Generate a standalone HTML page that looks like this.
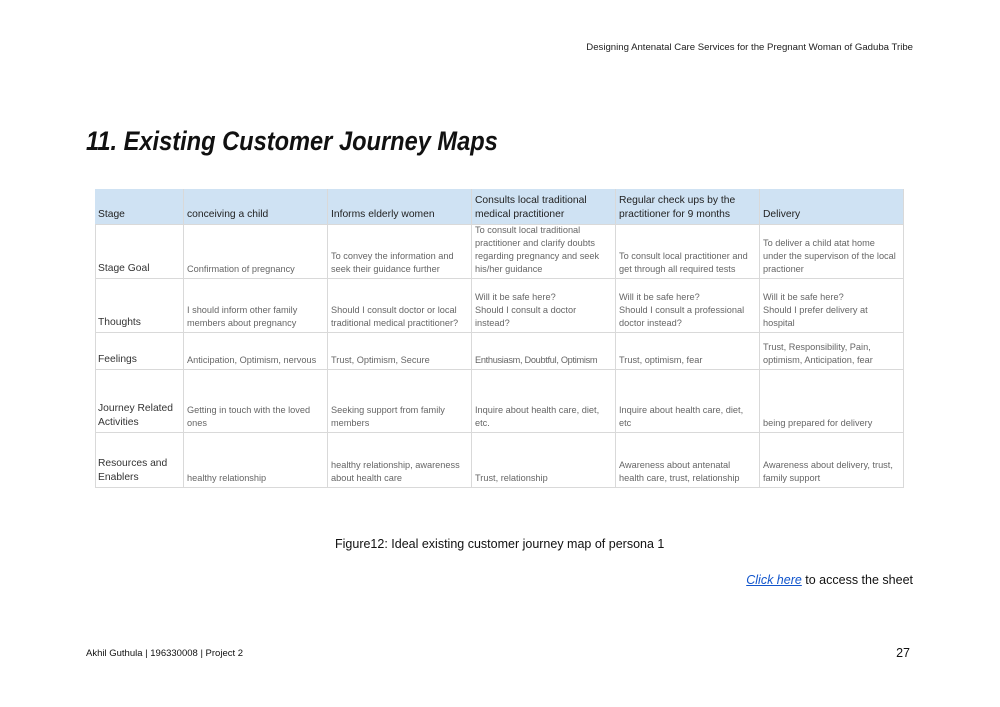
<!DOCTYPE html>
<html><head><meta charset="utf-8"><style>
body{margin:0;width:1000px;height:707px;background:#fff;position:relative;font-family:"Liberation Sans",sans-serif;overflow:hidden}
.a{position:absolute;white-space:nowrap}
.c{position:absolute;box-sizing:border-box;display:flex;align-items:flex-end;padding:0 3px 2px 3px;font-size:9.2px;line-height:13px;color:#666;border-right:1px solid #d9d9d9;border-bottom:1px solid #d9d9d9}
.h{background:#cfe2f3;color:#222;font-size:10.3px;line-height:14px}
.l{color:#333;font-size:10.3px;line-height:14px}
</style></head><body>
<div class="a" style="right:87px;top:42px;font-size:9.6px;color:#222">Designing Antenatal Care Services for the Pregnant Woman of Gaduba Tribe</div>
<div class="a" style="left:86px;top:126px;font-size:27px;font-style:italic;font-weight:bold;color:#111;transform:scaleX(0.875);transform-origin:left top">11. Existing Customer Journey Maps</div>
<div style="position:absolute;left:95px;top:189px;width:809px;height:299px;border-left:1px solid #d9d9d9;border-top:1px solid #d9d9d9;box-sizing:border-box"></div>
<div id="t"></div>
<div class="a" style="left:335px;top:537px;font-size:12.5px;color:#111">Figure12: Ideal existing customer journey map of persona 1</div>
<div class="a" style="right:87px;top:573px;font-size:12.5px;color:#111"><span style="color:#1155cc;font-style:italic;text-decoration:underline">Click here</span> to access the sheet</div>
<div class="a" style="left:86px;top:648px;font-size:9.5px;color:#111">Akhil Guthula | 196330008 | Project 2</div>
<div class="a" style="right:90px;top:646px;font-size:12.5px;color:#111">27</div>
<script>
var xs=[95,184,328,472,616,760,904],ys=[189,225,279,333,370,433,488];
var d=[
["Stage","conceiving a child","Informs elderly women","Consults local traditional medical practitioner","Regular check ups by the practitioner for 9 months","Delivery"],
["Stage Goal","Confirmation of pregnancy","To convey the information and seek their guidance further","To consult local traditional practitioner and clarify doubts regarding pregnancy and seek his/her guidance","To consult local practitioner and get through all required tests","To deliver a child atat home under the supervison of the local practioner"],
["Thoughts","I should inform other family members about pregnancy","Should I consult doctor or local traditional medical practitioner?","Will it be safe here?<br>Should I consult a doctor instead?","Will it be safe here?<br>Should I consult a professional doctor instead?","Will it be safe here?<br>Should I prefer delivery at hospital"],
["Feelings","Anticipation, Optimism, nervous","Trust, Optimism, Secure","Enthusiasm, Doubtful, Optimism","Trust, optimism, fear","Trust, Responsibility, Pain, optimism, Anticipation, fear"],
["Journey Related Activities","Getting in touch with the loved ones","Seeking support from family members","Inquire about health care, diet, etc.","Inquire about health care, diet, etc","being prepared for delivery"],
["Resources and Enablers","healthy relationship","healthy relationship, awareness about health care","Trust, relationship","Awareness about antenatal health care, trust, relationship","Awareness about delivery, trust, family support"]];
var h="";
for(var r=0;r<6;r++)for(var c=0;c<6;c++){
var cl="c"+(r==0?" h":(c==0?" l":""));
var t=d[r][c];if(r==3&&c==3)t='<span style="white-space:nowrap;letter-spacing:-0.3px">'+t+'</span>';
h+='<div class="'+cl+'" style="left:'+xs[c]+'px;top:'+ys[r]+'px;width:'+(xs[c+1]-xs[c])+'px;height:'+(ys[r+1]-ys[r])+'px"><div>'+t+'</div></div>';}
document.getElementById("t").innerHTML=h;
</script>
</body></html>
